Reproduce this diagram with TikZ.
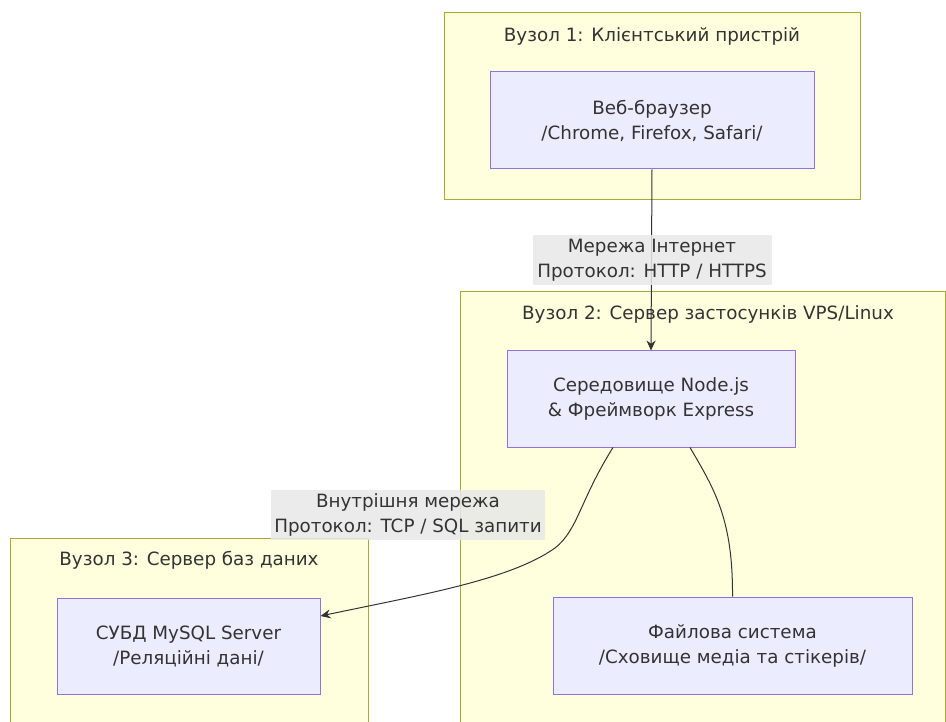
\documentclass[tikz,border=0pt]{standalone}
\usepackage{fontspec}
\setmainfont{DejaVu Sans}
\usepackage{tikz}
\usetikzlibrary{positioning,arrows.meta}

\definecolor{clusterfill}{HTML}{FFFFDE}
\definecolor{clusterline}{HTML}{AAAA33}
\definecolor{nodefill}{HTML}{ECECFF}
\definecolor{nodeline}{HTML}{9370DB}
\definecolor{txt}{HTML}{333333}
\definecolor{edgeline}{HTML}{333333}
\definecolor{lblfill}{HTML}{E8E8E8}

\tikzset{
	cluster/.style={fill=clusterfill, draw=clusterline, line width=1pt},
	clustertitle/.style={text=txt, font=\fontsize{18.3}{25}\selectfont},
	comp/.style={rectangle, fill=nodefill, draw=nodeline, line width=1pt, text=txt,
		align=center, font=\fontsize{18.3}{25}\selectfont},
	edgelbl/.style={rectangle, fill=lblfill, fill opacity=0.85, text opacity=1, text=txt,
		align=center, font=\fontsize{18.3}{25}\selectfont, inner sep=1pt},
	link/.style={draw=edgeline, line width=1pt},
}

\begin{document}
\begin{tikzpicture}[x=1pt, y=-1pt]
	\useasboundingbox (0,0) rectangle (946,722);
	\clip (0,0) rectangle (946,722);

	% Draw clusters
	%Vuzol 1
	\draw[cluster] (444,13) rectangle (860,200);
	\node[clustertitle] (title1) at (652,36) {Вузол 1: Клієнтський пристрій};
	%Vuzol 2
	\draw[cluster] (460,292) rectangle (945,740);
	\node[clustertitle] (title2) at (708,314) {Вузол 2: Сервер застосунків VPS/Linux};
	%Vuzol 3
	\draw[cluster] (10,538) rectangle (368,740);
	\node[clustertitle] (title3) at (189,560) {Вузол 3: Сервер баз даних};

	% Place components
	\node[comp, minimum width=324pt, minimum height=97pt] (browser) at (652,120.5)
		{Веб-браузер\\/Chrome, Firefox, Safari/};
	\node[comp, minimum width=288pt, minimum height=96pt] (nodejs) at (651,399)
		{Середовище Node.js\\\& Фреймворк Express};
	\node[comp, minimum width=263pt, minimum height=96pt] (mysql) at (188.5,646)
		{СУБД MySQL Server\\/Реляційні дані/};
	\node[comp, minimum width=359pt, minimum height=97pt] (filesys) at (732.5,645.5)
		{Файлова система\\/Сховище медіа та стікерів/};

	% Connectors
	%Internet
	\draw[link, -{Stealth[length=10pt, width=9pt]}] (browser.south) -- (nodejs.north);
	\node[edgelbl, minimum width=239pt, minimum height=50pt] (lblnet) at (652,260)
		{Мережа Інтернет\\Протокол: HTTP / HTTPS};
	%Internal network
	\draw[link, -{Stealth[length=10pt, width=9pt]}] ([xshift=-38pt]nodejs.south)
		.. controls (580,500) and (578,530) .. (555,548)
		.. controls (510,580) and (420,595) .. ([yshift=30pt]mysql.east);
	\node[edgelbl, minimum width=274pt, minimum height=50pt] (lblsql) at (408,515)
		{Внутрішня мережа\\Протокол: TCP / SQL запити};
	%File system
	\draw[link] ([xshift=39pt]nodejs.south)
		.. controls (715,490) and (733,520) .. (filesys.north);

\end{tikzpicture}
\end{document}
